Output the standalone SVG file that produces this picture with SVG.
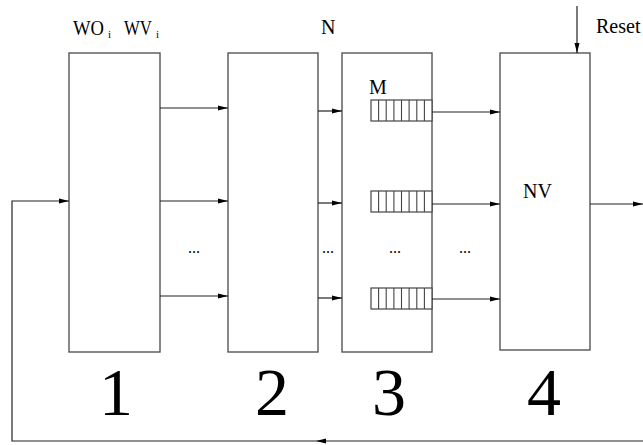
<svg xmlns="http://www.w3.org/2000/svg" width="643" height="445" viewBox="0 0 643 445">
<style>
.box{fill:#fff;stroke:#555;stroke-width:1.4}
.q{fill:#fff;stroke:#444;stroke-width:1.2}
.ql{stroke:#444;stroke-width:1.1}
.c{fill:none;stroke:#222;stroke-width:1.2}
.t{font-family:"Liberation Serif","Times New Roman",serif;fill:#000}
.s{font-size:20px}
.sub{font-size:11px}
.big{font-size:68px}
.dots{font-size:16px}
</style>
<defs>
<marker id="ah" viewBox="0 0 10 6" refX="10" refY="3" markerWidth="10" markerHeight="6" markerUnits="userSpaceOnUse" orient="auto">
<path d="M0,0.5 L10,3 L0,5.5 Z" fill="#000"/>
</marker>
</defs>
<rect width="643" height="445" fill="#fff"/>
<g id="node1">
<rect class="box" x="69" y="53" width="91" height="299"/>
<text class="t s" x="73" y="35" textLength="31" lengthAdjust="spacingAndGlyphs">WO</text>
<text class="t sub" x="108" y="38">i</text>
<text class="t s" x="124" y="35" textLength="28" lengthAdjust="spacingAndGlyphs">WV</text>
<text class="t sub" x="156" y="38">i</text>
<text class="t big" x="116" y="415" text-anchor="middle">1</text>
</g>
<g id="node2">
<rect class="box" x="228" y="53" width="90" height="299"/>
<text class="t big" x="272" y="415" text-anchor="middle">2</text>
</g>
<g id="node3">
<rect class="box" x="342" y="53" width="90" height="299"/>
<text class="t s" x="369" y="94">M</text>
<text class="t big" x="389" y="415" text-anchor="middle">3</text>
<g id="queue1">
<rect class="q" x="371" y="100" width="61" height="21"/>
<path class="ql" d="M378.6,100v21M386.2,100v21M393.9,100v21M401.5,100v21M409.1,100v21M416.8,100v21M424.4,100v21"/>
</g>
<g id="queue2">
<rect class="q" x="371" y="191" width="61" height="21"/>
<path class="ql" d="M378.6,191v21M386.2,191v21M393.9,191v21M401.5,191v21M409.1,191v21M416.8,191v21M424.4,191v21"/>
</g>
<g id="queue3">
<rect class="q" x="371" y="288" width="61" height="21"/>
<path class="ql" d="M378.6,288v21M386.2,288v21M393.9,288v21M401.5,288v21M409.1,288v21M416.8,288v21M424.4,288v21"/>
</g>
</g>
<g id="node4">
<rect class="box" x="500" y="53" width="90" height="297"/>
<text class="t s" x="523" y="198">NV</text>
<text class="t big" x="544" y="415" text-anchor="middle">4</text>
</g>
<g id="labels">
<text class="t s" x="321" y="34">N</text>
<text class="t s" x="596" y="33">Reset</text>
<text class="t dots" x="194" y="253" text-anchor="middle">...</text>
<text class="t dots" x="328" y="253" text-anchor="middle">...</text>
<text class="t dots" x="395" y="253" text-anchor="middle">...</text>
<text class="t dots" x="465" y="253" text-anchor="middle">...</text>
</g>
<g id="connectors">
<path class="c" d="M160,108H228" marker-end="url(#ah)"/>
<path class="c" d="M160,201H228" marker-end="url(#ah)"/>
<path class="c" d="M160,296H228" marker-end="url(#ah)"/>
<path class="c" d="M318,111H342" marker-end="url(#ah)"/>
<path class="c" d="M318,203H342" marker-end="url(#ah)"/>
<path class="c" d="M318,298H342" marker-end="url(#ah)"/>
<path class="c" d="M432,112H500" marker-end="url(#ah)"/>
<path class="c" d="M432,204H500" marker-end="url(#ah)"/>
<path class="c" d="M432,299H500" marker-end="url(#ah)"/>
<path class="c" d="M590,204H643" marker-end="url(#ah)"/>
<path class="c" d="M577,6V53" marker-end="url(#ah)"/>
<path class="c" d="M643,441H316" marker-end="url(#ah)"/>
<path class="c" d="M316,441H12V201H69" marker-end="url(#ah)"/>
</g>
</svg>
